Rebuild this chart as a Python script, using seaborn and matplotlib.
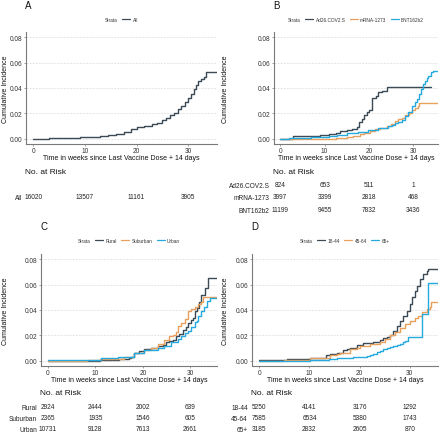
import numpy as np
import pandas as pd
import matplotlib
matplotlib.use("Agg")
import matplotlib.pyplot as plt
import seaborn as sns
from matplotlib.lines import Line2D

# ---------------- data ----------------
weeks_ticks = [0, 10, 20, 30]
inc_ticks = [0.00, 0.02, 0.04, 0.06, 0.08]
inc_labels = ["0.00", "0.02", "0.04", "0.06", "0.08"]

# Panel A
a_strata = ["All"]
a_all_t = [0, 3, 6, 9, 11, 13, 14.5, 16, 17.5, 19, 20, 21.5, 23, 24, 25, 25.7, 26.5, 27.2,
           28, 28.7, 29.4, 30, 30.6, 31.1, 31.5, 32, 32.5, 33, 33.5, 35.6]
a_all_v = [0, 0.0005, 0.0007, 0.0012, 0.0016, 0.0022, 0.003, 0.0042, 0.0058, 0.0078, 0.0092,
           0.0105, 0.0118, 0.0125, 0.0148, 0.0168, 0.0185, 0.0205, 0.0232, 0.0258, 0.029,
           0.0322, 0.0355, 0.0395, 0.0425, 0.0455, 0.047, 0.049, 0.0522, 0.0522]
a_risk = [[16020, 13507, 11161, 3905]]

# Panel B
b_strata = ["Ad26.COV2.S", "mRNA-1273", "BNT162b2"]
b_ad26_t = [0, 2.8, 9.0, 11.0, 12.5, 13.5, 15.0, 16.2, 17.3, 17.7, 18.4, 18.9, 19.5, 20.0,
            20.8, 21.6, 22.0, 22.9, 24.2, 34.0]
b_ad26_v = [0, 0.002, 0.003, 0.004, 0.005, 0.006, 0.007, 0.008, 0.009, 0.013, 0.016, 0.019,
            0.0215, 0.023, 0.032, 0.0335, 0.0365, 0.0375, 0.0405, 0.0405]
b_mrna_t = [0, 12.6, 15.0, 16.5, 18.0, 19.0, 20.2, 21.3, 22.5, 24.0, 25.0, 25.8, 26.6, 27.4,
            28.2, 29.0, 29.7, 30.3, 31.0, 31.3, 35.6]
b_mrna_v = [0, 0.0006, 0.0015, 0.0022, 0.0035, 0.0048, 0.0066, 0.0076, 0.0088, 0.0103, 0.012,
            0.0141, 0.0155, 0.0168, 0.0185, 0.02, 0.0225, 0.024, 0.0256, 0.0283, 0.0283]
b_bnt_t = [0, 2, 4.4, 7, 8.9, 11, 12.7, 15, 17.6, 19.9, 22.1, 24.4, 25.2, 25.9, 26.6, 27.4,
           28.1, 28.8, 29.7, 30.3, 30.8, 31.3, 31.8, 32.3, 32.7, 33.1, 33.4, 34.0, 34.5, 35.6]
b_bnt_v = [0, 0.0004, 0.0008, 0.0013, 0.0018, 0.0025, 0.0031, 0.0045, 0.0057, 0.007, 0.0085,
           0.0103, 0.0113, 0.0124, 0.0135, 0.0148, 0.018, 0.021, 0.026, 0.029, 0.0315, 0.035,
           0.0395, 0.043, 0.0454, 0.0475, 0.0493, 0.0528, 0.0535, 0.0535]
b_risk = [[824, 653, 511, 1], [3997, 3399, 2818, 468], [11199, 9455, 7832, 3436]]

# Panel C
c_strata = ["Rural", "Suburban", "Urban"]
c_rural_t = [0, 9, 11, 13.2, 15, 16, 17, 17.6, 18.2, 19.2, 20.3, 21.7, 23.1, 24.2, 24.9, 25.6,
             26.3, 27.0, 27.7, 28.4, 29.1, 29.6, 30.2, 30.6, 30.9, 31.3, 31.8, 32.3, 33.0, 33.8, 35.6]
c_rural_v = [0, 0.0003, 0.0006, 0.0008, 0.0012, 0.0016, 0.0025, 0.0034, 0.006, 0.0079, 0.0091,
             0.0105, 0.0118, 0.0125, 0.0148, 0.0153, 0.0168, 0.0195, 0.021, 0.0245, 0.027,
             0.0295, 0.032, 0.0338, 0.039, 0.0417, 0.046, 0.052, 0.0575, 0.0655, 0.0655]
c_sub_t = [0, 8.3, 11, 13.2, 16, 18.2, 20.3, 21.7, 23.1, 24.5, 25.6, 26.3, 27.0, 27.4, 28.1,
           28.8, 29.5, 30.2, 30.9, 31.6, 32.3, 32.7, 35.6]
c_sub_v = [0.0003, 0.0008, 0.0012, 0.0016, 0.0034, 0.006, 0.0087, 0.0105, 0.0131, 0.0166,
           0.0195, 0.0206, 0.023, 0.0275, 0.0295, 0.033, 0.0391, 0.0405, 0.0425, 0.0444,
           0.0465, 0.0499, 0.0499]
c_urb_t = [0, 5, 11.1, 14.7, 18.2, 20.3, 23.1, 24.5, 25.9, 27.4, 28.1, 28.8, 29.5, 30.2, 30.9,
           31.3, 31.6, 32.3, 32.8, 33.4, 34.1, 35.6]
c_urb_v = [0.0006, 0.001, 0.0021, 0.0034, 0.0066, 0.0087, 0.0101, 0.012, 0.0147, 0.0175,
           0.0193, 0.0218, 0.0238, 0.027, 0.0305, 0.0315, 0.0352, 0.0395, 0.042, 0.047,
           0.0497, 0.0497]
c_risk = [[2924, 2444, 2002, 639], [2365, 1935, 1546, 605], [10731, 9128, 7613, 2661]]

# Panel D
d_strata = ["18-44", "45-64", "65+"]
d_1844_t = [0, 5.5, 10.1, 13.4, 14.1, 15.4, 16.7, 17.4, 18.1, 19.4, 20.7, 22.7, 24.0, 24.7,
            25.4, 26.0, 26.7, 27.4, 28.0, 28.7, 29.4, 30.0, 30.5, 31.0, 31.5, 32.0, 32.7,
            33.4, 33.7, 35.7]
d_1844_v = [0.0006, 0.0013, 0.0026, 0.0045, 0.0053, 0.0066, 0.0087, 0.0095, 0.0105, 0.0122,
            0.0144, 0.015, 0.0163, 0.0178, 0.0184, 0.0202, 0.0236, 0.0276, 0.0315, 0.0354,
            0.0394, 0.0446, 0.0499, 0.0551, 0.059, 0.0643, 0.0683, 0.0709, 0.0722, 0.0722]
d_4564_t = [0, 5, 10.1, 14.1, 15.4, 16, 18, 19.4, 20, 22, 24, 25, 26, 27, 28, 29, 30, 31,
            31.7, 32.4, 33.4, 34, 34.3, 35.7]
d_4564_v = [0.0003, 0.001, 0.002, 0.0045, 0.0052, 0.0065, 0.0092, 0.0105, 0.0118, 0.0135,
            0.0148, 0.0171, 0.0205, 0.0228, 0.026, 0.0289, 0.0315, 0.0341, 0.0354, 0.0381,
            0.0407, 0.0421, 0.046, 0.046]
d_65_t = [0, 6, 10.1, 14, 15.4, 18.7, 21.4, 22, 22.7, 23.4, 24, 24.7, 25.4, 26, 26.7, 27.4,
          28, 28.7, 29, 29.7, 32.4, 33.7, 35.7]
d_65_v = [0, 0.0003, 0.0008, 0.0015, 0.002, 0.003, 0.0039, 0.005, 0.0058, 0.0072, 0.0079,
          0.0092, 0.0098, 0.0108, 0.0118, 0.0126, 0.0135, 0.0148, 0.0158, 0.0184, 0.0368,
          0.0612, 0.0612]
d_risk = [[5250, 4141, 3176, 1292], [7585, 6534, 5380, 1743], [3185, 2832, 2605, 870]]

# ---------------- style ----------------
DARK, ORANGE, BLUE = "#3B4A54", "#E8A05C", "#25A9DE"
XLIM = (-1.42, 35.6)
YLIM = (-0.004, 0.084)
W, H = 440, 435

sns.set_theme(style="white")
plt.rcParams["font.family"] = ["Liberation Sans", "DejaVu Sans"]

fig = plt.figure(figsize=(W / 100, H / 100), dpi=100)
fig.patch.set_facecolor("white")


def rect(l, t, r, b):
    return [l / W, 1 - b / H, (r - l) / W, (b - t) / H]


def panel(letter, box, tab_box, letter_y, legend_y, nrisk_y, strata, curves, colors, risk,
          rows_slots):
    l, t, r, b = box
    ax = fig.add_axes(rect(*box))
    frames = [pd.DataFrame({"time": tt, "inc": vv, "Strata": name})
              for name, (tt, vv) in zip(strata, curves)]
    df = pd.concat(frames, ignore_index=True)
    sns.lineplot(data=df, x="time", y="inc", hue="Strata", hue_order=strata,
                 palette=colors, estimator=None, sort=False, drawstyle="steps-post",
                 lw=1.0, legend=False, ax=ax)
    ax.set_xlim(*XLIM)
    ax.set_ylim(*YLIM)
    ax.set_xticks(weeks_ticks)
    ax.set_yticks(inc_ticks)
    ax.set_yticklabels(inc_labels)
    ax.grid(False)
    for y in inc_ticks:
        ax.axhline(y, color="#DCDCDC", lw=0.5, ls=(0, (3, 1.5)), zorder=0)
    for s in ["top", "right"]:
        ax.spines[s].set_visible(False)
    for s in ["left", "bottom"]:
        ax.spines[s].set_color("#7A7A7A")
        ax.spines[s].set_linewidth(0.8)
    ax.tick_params(axis="both", labelsize=4.7, length=1.6, width=0.5, colors="#7A7A7A",
                   labelcolor="#333333", pad=0.8, left=True, bottom=True)
    ax.set_xlabel("Time in weeks since Last Vaccine Dose + 14 days", fontsize=5.0,
                  color="#111111")
    ax.xaxis.label.set_va("center")
    ax.xaxis.set_label_coords(0.5, -14.0 / (b - t))
    ax.set_ylabel("Cumulative Incidence", fontsize=5.0, color="#111111")
    ax.yaxis.label.set_va("center")
    ax.yaxis.set_label_coords((5.5 + (220 if l > 220 else 0) - l) / (r - l), 0.5)

    # legend
    fs = 3.4
    hl, htp = 1.7, 0.5
    hs = [Line2D([], [], color="none")] + [Line2D([], [], color=c, lw=0.9) for c in colors]
    labs = ["Strata"] + list(strata)
    shift = (hl + htp) * fs * 100 / 72 / 2
    cx = (l + r) / 2
    leg = fig.legend(hs, labs, loc="center", bbox_to_anchor=((cx - shift) / W, 1 - legend_y / H),
                     bbox_transform=fig.transFigure, ncol=len(labs), frameon=False,
                     fontsize=fs, handlelength=hl, handletextpad=htp, columnspacing=0.9,
                     borderpad=0, borderaxespad=0)
    for txt in leg.get_texts():
        txt.set_color("#333333")

    # panel letter and table title
    fig.text((l - 1) / W, 1 - letter_y / H, letter, fontsize=7, ha="left", va="center",
             color="#111111")
    fig.text((l - 1) / W, 1 - nrisk_y / H, "No. at Risk", fontsize=6, ha="left", va="center",
             color="#111111")

    # risk table
    tl, tt_, tr, tb = tab_box
    tax = fig.add_axes(rect(tl, tt_, tr, tb))
    tax.set_xlim(*XLIM)
    tax.set_ylim(2.5, -0.5)
    for s in tax.spines.values():
        s.set_visible(False)
    tax.set_xticks([])
    tax.set_yticks(rows_slots)
    tax.set_yticklabels(strata)
    tax.tick_params(axis="y", length=0, pad=3.0, labelsize=4.7, labelcolor="#222222")
    tax.grid(False)
    tax.set_facecolor("none")
    for row, vals in zip(rows_slots, risk):
        for x, v in zip(weeks_ticks, vals):
            tax.text(x, row, str(v), ha="center", va="center", fontsize=4.7, color="#222222")
    return ax


panel("A", (26, 33, 217, 145), (26, 179, 217, 216.5), 6, 20, 172, a_strata,
      [(a_all_t, a_all_v)], [DARK], a_risk, [1])
panel("B", (274, 33, 438, 145), (274, 179, 438, 216.5), 6, 20, 172, b_strata,
      [(b_ad26_t, b_ad26_v), (b_mrna_t, b_mrna_v), (b_bnt_t, b_bnt_v)],
      [DARK, ORANGE, BLUE], b_risk, [0, 1, 2])
panel("C", (41, 255, 217, 367), (41, 402, 217, 435.5), 227, 241.5, 393.5, c_strata,
      [(c_rural_t, c_rural_v), (c_sub_t, c_sub_v), (c_urb_t, c_urb_v)],
      [DARK, ORANGE, BLUE], c_risk, [0, 1, 2])
panel("D", (252, 255, 438, 367), (252, 402, 438, 435.5), 227, 241.5, 393.5, d_strata,
      [(d_1844_t, d_1844_v), (d_4564_t, d_4564_v), (d_65_t, d_65_v)],
      [DARK, ORANGE, BLUE], d_risk, [0, 1, 2])

fig.savefig("out.png", dpi=100, facecolor="white")
